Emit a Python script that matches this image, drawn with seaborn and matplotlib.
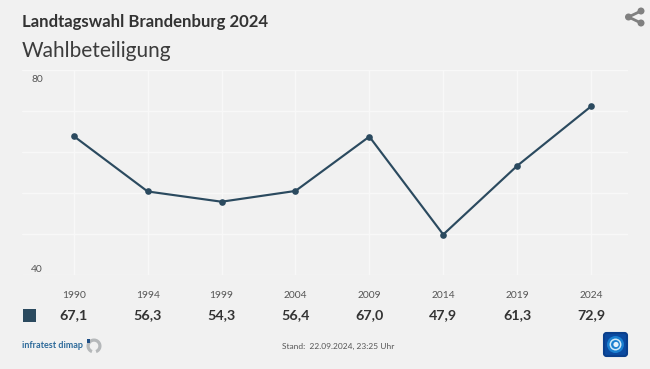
import matplotlib
matplotlib.use("Agg")
import matplotlib.pyplot as plt
import matplotlib.transforms as mtrans
from matplotlib.patches import Rectangle, FancyBboxPatch, Circle, Wedge
from matplotlib.lines import Line2D
import seaborn as sns
import pandas as pd

years = ["1990", "1994", "1999", "2004", "2009", "2014", "2019", "2024"]
turnout = [67.1, 56.3, 54.3, 56.4, 67.0, 47.9, 61.3, 72.9]
value_labels = ["67,1", "56,3", "54,3", "56,4", "67,0", "47,9", "61,3", "72,9"]
y_ticks = [40, 48, 56, 64, 72, 80]
y_tick_labels = ["40", "", "", "", "", "80"]

W, H = 650, 369
BG = "#f1f1f1"
NAVY = "#2b4a5f"
TXT = "#333333"

sns.set_theme(style="white")
plt.rcParams["font.family"] = ["Lato", "DejaVu Sans"]

fig = plt.figure(figsize=(W / 100, H / 100), dpi=100, facecolor=BG)
L, R, T, B = 22, 628, 70, 275
ax = fig.add_axes([L / W, 1 - B / H, (R - L) / W, (B - T) / H], facecolor=BG)

df = pd.DataFrame({"Jahr": years, "Wahlbeteiligung": turnout})
sns.lineplot(data=df, x="Jahr", y="Wahlbeteiligung", ax=ax, color=NAVY, linewidth=1.55,
             marker="o", markersize=4.8, markeredgewidth=0, sort=False, zorder=3)

ax.set_xlim(-0.70, 7.50)
ax.set_ylim(40, 80)
ax.set_xlabel("")
ax.set_ylabel("")
ax.set_yticks(y_ticks)
ax.set_yticklabels(y_tick_labels)
ax.set_xticks(range(len(years)))
ax.set_xticklabels(years)
ax.grid(True, color="#f8f8f8", linewidth=1.0)
ax.set_axisbelow(True)
for s in ax.spines.values():
    s.set_visible(False)
ax.tick_params(axis="both", length=0)
ax.tick_params(axis="x", pad=11.6, labelsize=7.4, labelcolor="#555555")
ax.tick_params(axis="y", pad=-15.2, labelsize=7.4, labelcolor="#555555")
for lab, dy in zip(ax.get_yticklabels(), [7, 0, 0, 0, 0, -9]):
    lab.set_transform(lab.get_transform() + mtrans.ScaledTranslation(0, dy / 100, fig.dpi_scale_trans))

def fx(px):
    return px / W
def fy(px):
    return 1 - px / H

fig.text(fx(22), fy(22.5), "Landtagswahl Brandenburg 2024", fontsize=12.05, fontweight="bold",
         color=TXT, va="center", ha="left")
fig.text(fx(22), fy(51), "Wahlbeteiligung", fontsize=15.0, color="#3c3c3c", va="center", ha="left")

# value row, aligned with the category axis
row = mtrans.blended_transform_factory(ax.transData, fig.transFigure)
for i, v in enumerate(value_labels):
    ax.text(i, fy(315), v, transform=row, fontsize=10.3, fontweight="bold", color=TXT,
            ha="center", va="center", clip_on=False)

fig.add_artist(Rectangle((fx(22.5), fy(322)), 13.5 / W, 13 / H, transform=fig.transFigure,
                         facecolor=NAVY, edgecolor="none"))

# infratest dimap logo
fig.text(fx(22), fy(345), "infratest dimap", fontsize=6.5, fontweight="bold", color="#2d6a9a",
         va="center", ha="left")

px_ax = fig.add_axes([0, 0, 1, 1], facecolor="none", zorder=5)
px_ax.set_xlim(0, W)
px_ax.set_ylim(H, 0)
px_ax.axis("off")
px_ax.add_patch(Wedge((94, 346), 7.5, -250, 70, width=3.2, facecolor="#b5b8ba", edgecolor="none"))
px_ax.add_patch(Rectangle((86.5, 339), 3, 3.5, facecolor="#1f4f86", edgecolor="none"))

# tagesschau icon
px_ax.add_patch(FancyBboxPatch((604, 333), 23, 23, boxstyle="round,pad=0,rounding_size=2.5",
                               facecolor="#0b4aa0", edgecolor="#0a3f8c", linewidth=1.5))
px_ax.add_patch(Circle((615.5, 344.5), 8.5, facecolor="#1a7fd0", edgecolor="none"))
px_ax.add_patch(Circle((615.5, 344.5), 5.2, facecolor="none", edgecolor="#cfe8f8", linewidth=1.1))
px_ax.add_patch(Circle((616, 344.5), 2.6, facecolor="#e6f2fb", edgecolor="none"))

# share icon
SHARE = "#808080"
px_ax.add_line(Line2D([641, 628.5, 641], [11, 17, 23], color=SHARE, linewidth=2.0))
for (cx, cy, r) in [(641, 11, 3.5), (628.5, 17, 3.5), (641, 23, 3.5)]:
    px_ax.add_patch(Circle((cx, cy), r, facecolor=SHARE, edgecolor="none"))

fig.text(fx(338), fy(346), "Stand:  22.09.2024, 23:25 Uhr", fontsize=6.0, color="#555555",
         va="center", ha="center")

fig.savefig("out.png", dpi=100, facecolor=BG)
